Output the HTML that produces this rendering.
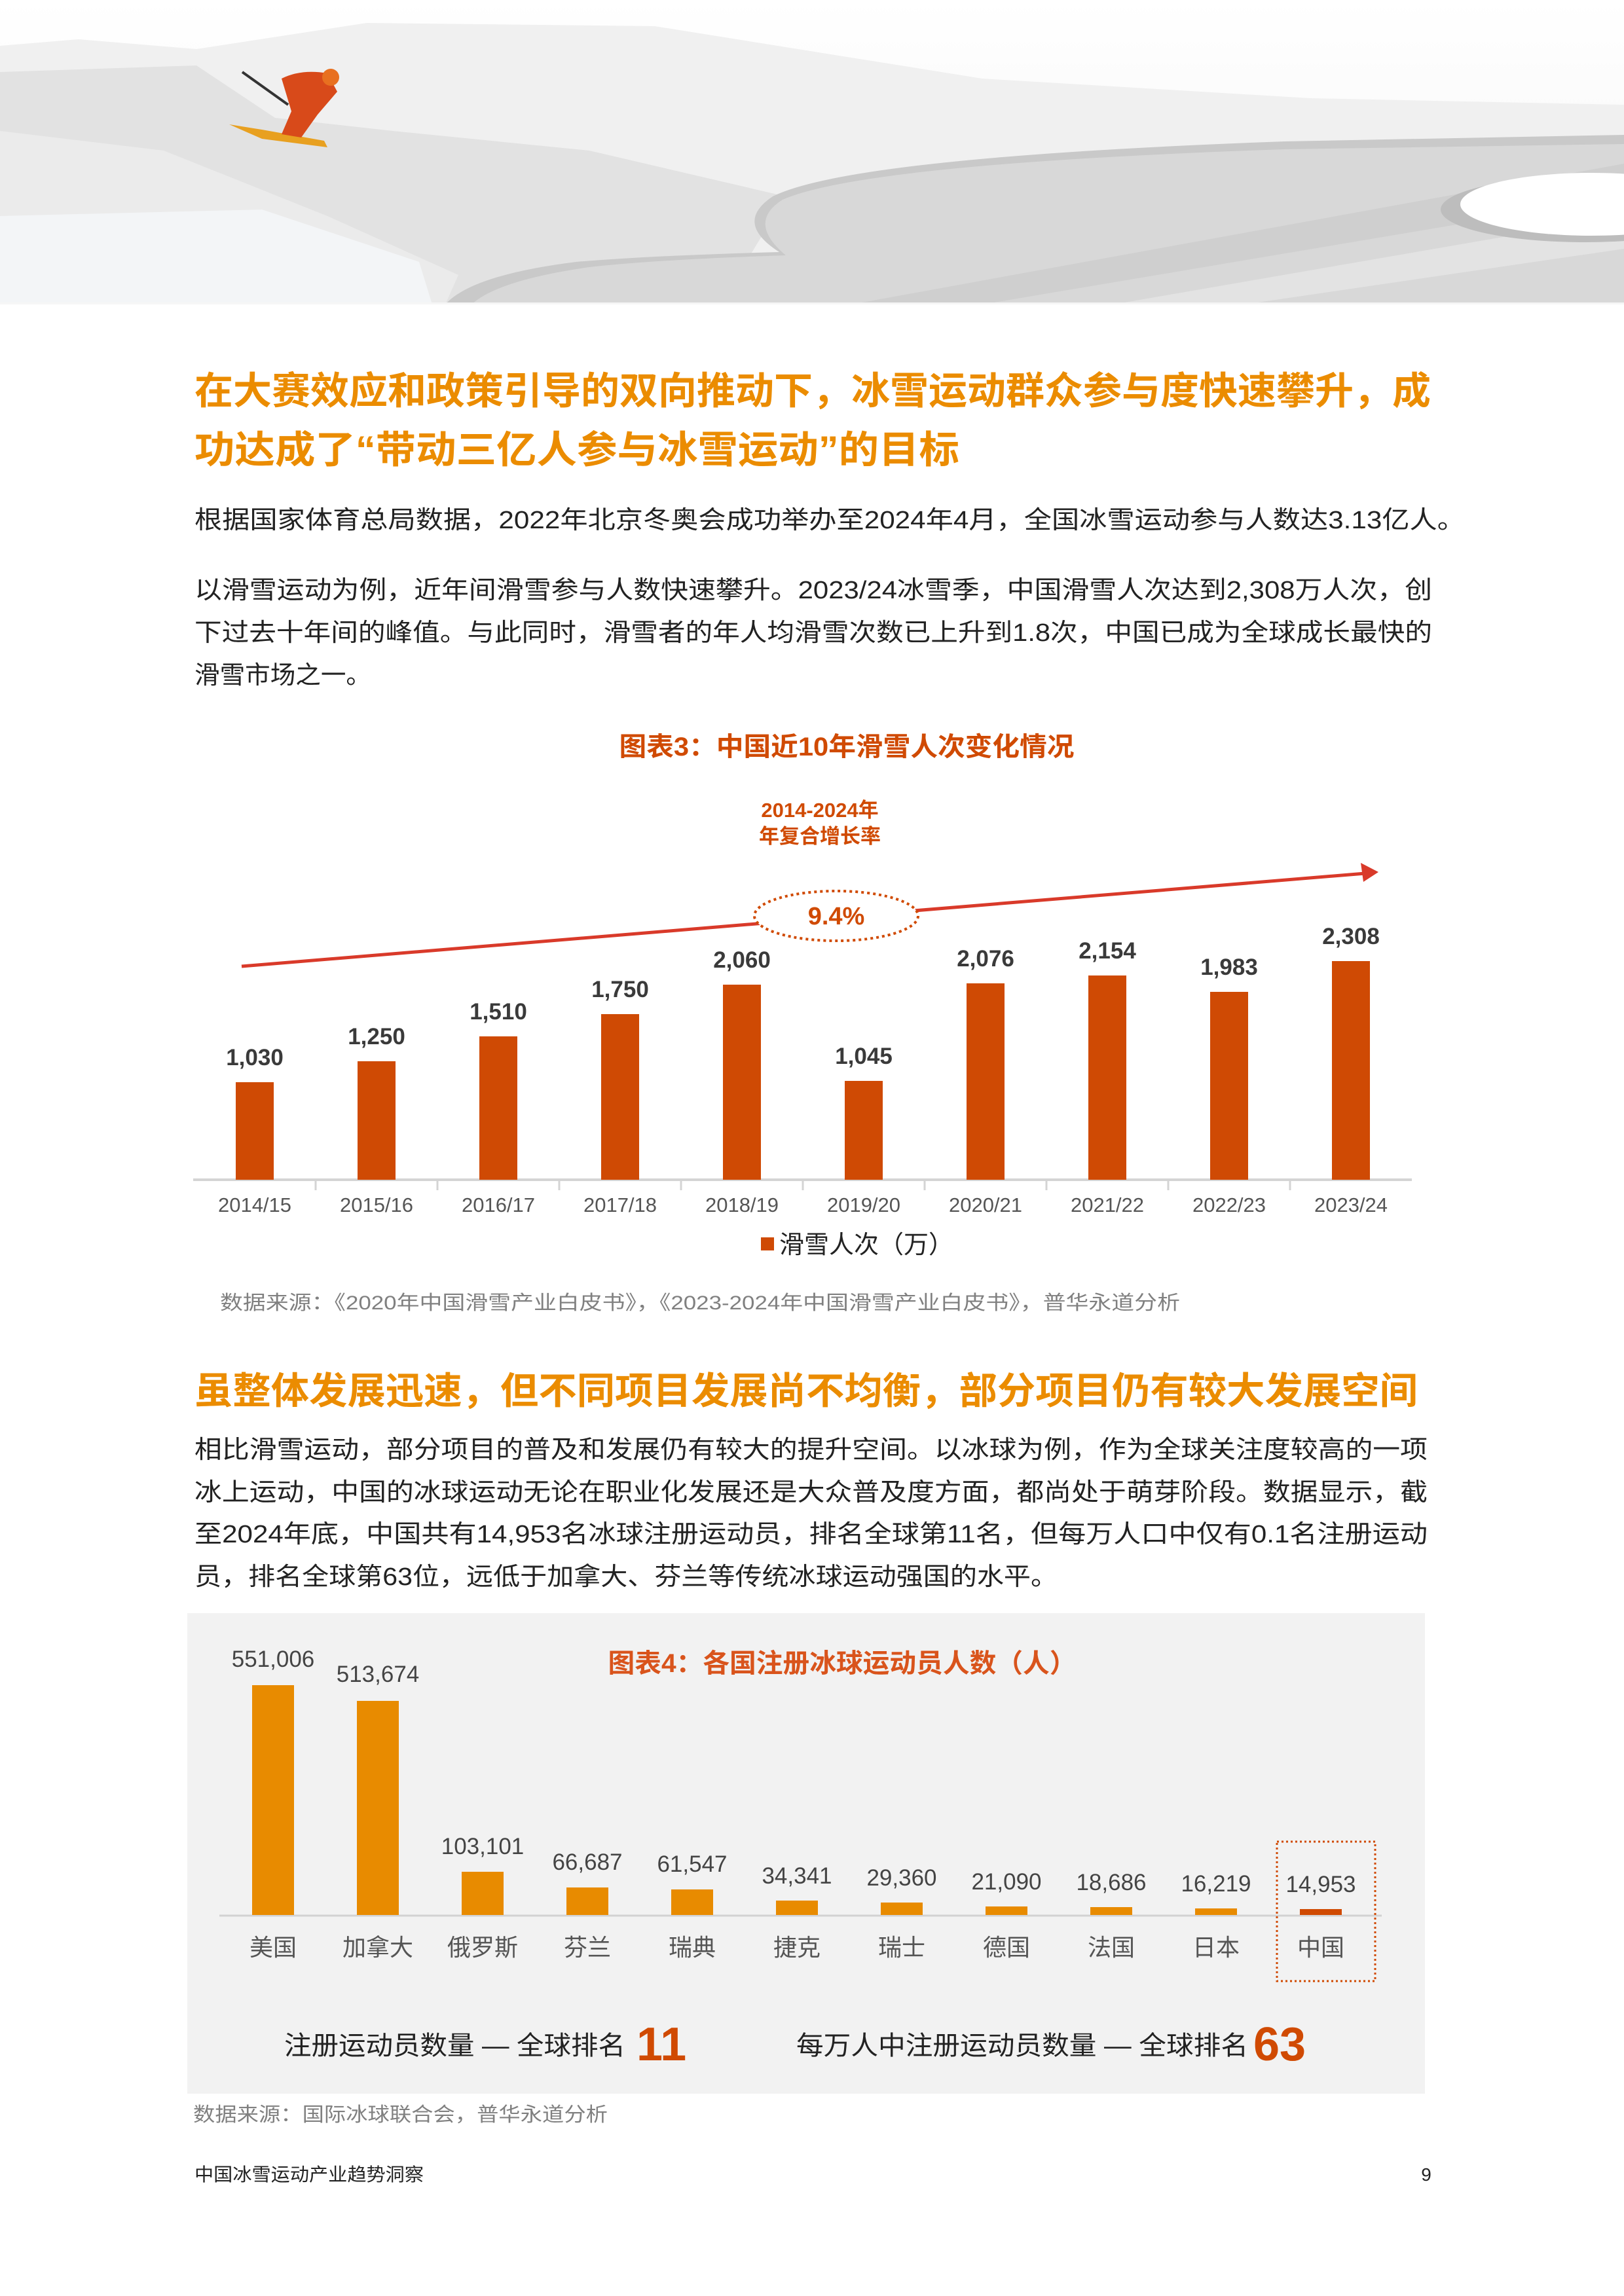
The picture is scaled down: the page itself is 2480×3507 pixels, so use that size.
<!DOCTYPE html>
<html><head><meta charset="utf-8">
<style>
html,body{margin:0;padding:0;background:#fff;}
svg{display:block;}
text{font-family:"Liberation Sans","Noto Sans CJK SC",sans-serif;}
</style></head>
<body>
<svg width="2480" height="3507" viewBox="0 0 2480 3507" xmlns="http://www.w3.org/2000/svg">
<defs>
<linearGradient id="sky" x1="0" y1="0" x2="0" y2="1">
<stop offset="0" stop-color="#ffffff"/><stop offset="1" stop-color="#f4f4f4"/>
</linearGradient>
</defs>
<!-- header scene -->
<rect x="0" y="0" width="2480" height="465" fill="url(#sky)"/>
<path d="M0 70 L120 60 L300 75 L560 35 L1000 40 L1500 120 L2000 150 L2480 160 L2480 465 L0 465 Z" fill="#f0f0f0"/>
<path d="M0 110 L300 100 L420 180 L600 200 L900 230 L1200 300 L1100 465 L0 465 Z" fill="#e2e2e2"/>
<path d="M0 200 L250 230 L500 330 L700 420 L680 465 L0 465 Z" fill="#ebebeb"/>
<path d="M0 330 L400 320 L640 400 L660 465 L0 465 Z" fill="#f3f5f7"/>
<path d="M2480 206 L1962 216 Q1300 240 1180 300 Q1120 340 1190 385 Q1000 390 880 400 Q720 420 680 465 L2480 465 Z" fill="#c9c9c9"/>
<path d="M2480 220 L1962 228 Q1320 250 1195 305 Q1140 340 1200 390 Q1010 396 900 408 Q760 428 720 465 L2480 465 Z" fill="#d8d8d8"/>
<path d="M1300 465 L2480 250 L2480 300 L1500 465 Z" fill="#cfcfcf"/>
<path d="M1700 465 L2480 330 L2480 380 L1900 465 Z" fill="#e3e3e3"/>
<ellipse cx="2420" cy="320" rx="220" ry="50" fill="#bdbdbd"/>
<ellipse cx="2430" cy="312" rx="200" ry="48" fill="#ffffff"/>
<!-- skier -->
<path d="M350 190 L400 212 L500 225 L495 215 L400 198 Z" fill="#e8a020"/>
<path d="M430 120 Q460 105 500 112 L515 140 L485 175 L460 210 L430 205 L445 170 Z" fill="#d84a1a"/>
<circle cx="505" cy="118" r="13" fill="#e87020"/>
<path d="M370 110 L440 160" stroke="#333" stroke-width="4"/>
<rect x="0" y="462" width="2480" height="3" fill="#f6f6f6"/>

<!-- Section 1 heading -->
<text x="297" y="617" font-size="58" font-weight="bold" fill="#eb8c00" textLength="1888" lengthAdjust="spacingAndGlyphs">在大赛效应和政策引导的双向推动下，冰雪运动群众参与度快速攀升，成</text>
<text x="297" y="707" font-size="58" font-weight="bold" fill="#eb8c00" textLength="1168" lengthAdjust="spacingAndGlyphs">功达成了“带动三亿人参与冰雪运动”的目标</text>

<g font-size="38" fill="#222">
<text x="297" y="807" textLength="1940" lengthAdjust="spacingAndGlyphs">根据国家体育总局数据，2022年北京冬奥会成功举办至2024年4月，全国冰雪运动参与人数达3.13亿人。</text>
<text x="297" y="914" textLength="1890" lengthAdjust="spacingAndGlyphs">以滑雪运动为例，近年间滑雪参与人数快速攀升。2023/24冰雪季，中国滑雪人次达到2,308万人次，创</text>
<text x="297" y="979" textLength="1890" lengthAdjust="spacingAndGlyphs">下过去十年间的峰值。与此同时，滑雪者的年人均滑雪次数已上升到1.8次，中国已成为全球成长最快的</text>
<text x="297" y="1044" textLength="270" lengthAdjust="spacingAndGlyphs">滑雪市场之一。</text>
</g>

<!-- Chart 3 -->
<text x="1293" y="1154" font-size="40" font-weight="bold" fill="#d04a02" text-anchor="middle" textLength="695" lengthAdjust="spacingAndGlyphs">图表3：中国近10年滑雪人次变化情况</text>
<text x="1252" y="1248" font-size="31" font-weight="bold" fill="#d04a02" text-anchor="middle">2014-2024年</text>
<text x="1252" y="1288" font-size="31" font-weight="bold" fill="#d04a02" text-anchor="middle">年复合增长率</text>
<line x1="369" y1="1476" x2="2085" y2="1334" stroke="#d93a2a" stroke-width="5"/>
<polygon points="2105,1332 2078,1318 2082,1347" fill="#d93a2a"/>
<ellipse cx="1277" cy="1399" rx="125" ry="38" fill="#fff" stroke="#d04a02" stroke-width="4" stroke-dasharray="4 5"/>
<text x="1277" y="1412" font-size="38" font-weight="bold" fill="#d04a02" text-anchor="middle">9.4%</text>

<line x1="295" y1="1802" x2="2156" y2="1802" stroke="#d4d4d4" stroke-width="4"/>
<g stroke="#d4d4d4" stroke-width="3">
<line x1="482" y1="1802" x2="482" y2="1818"/><line x1="668" y1="1802" x2="668" y2="1818"/><line x1="854" y1="1802" x2="854" y2="1818"/><line x1="1040" y1="1802" x2="1040" y2="1818"/><line x1="1226" y1="1802" x2="1226" y2="1818"/><line x1="1412" y1="1802" x2="1412" y2="1818"/><line x1="1598" y1="1802" x2="1598" y2="1818"/><line x1="1784" y1="1802" x2="1784" y2="1818"/><line x1="1970" y1="1802" x2="1970" y2="1818"/>
</g>
<g fill="#cf4a04">
<rect x="360" y="1653" width="58" height="149"/>
<rect x="546" y="1621" width="58" height="181"/>
<rect x="732" y="1583" width="58" height="219"/>
<rect x="918" y="1549" width="58" height="253"/>
<rect x="1104" y="1504" width="58" height="298"/>
<rect x="1290" y="1651" width="58" height="151"/>
<rect x="1476" y="1502" width="58" height="300"/>
<rect x="1662" y="1490" width="58" height="312"/>
<rect x="1848" y="1515" width="58" height="287"/>
<rect x="2034" y="1468" width="58" height="334"/>
</g>
<g font-size="35" font-weight="bold" fill="#3a3a3a" text-anchor="middle">
<text x="389" y="1627">1,030</text>
<text x="575" y="1595">1,250</text>
<text x="761" y="1557">1,510</text>
<text x="947" y="1523">1,750</text>
<text x="1133" y="1478">2,060</text>
<text x="1319" y="1625">1,045</text>
<text x="1505" y="1476">2,076</text>
<text x="1691" y="1464">2,154</text>
<text x="1877" y="1489">1,983</text>
<text x="2063" y="1442">2,308</text>
</g>
<g font-size="31" fill="#555" text-anchor="middle">
<text x="389" y="1851">2014/15</text><text x="575" y="1851">2015/16</text><text x="761" y="1851">2016/17</text><text x="947" y="1851">2017/18</text><text x="1133" y="1851">2018/19</text><text x="1319" y="1851">2019/20</text><text x="1505" y="1851">2020/21</text><text x="1691" y="1851">2021/22</text><text x="1877" y="1851">2022/23</text><text x="2063" y="1851">2023/24</text>
</g>
<rect x="1162" y="1890" width="20" height="20" fill="#cf4a04"/>
<text x="1190" y="1914" font-size="38" fill="#222">滑雪人次（万）</text>
<text x="336" y="2000" font-size="30" fill="#808080" textLength="1466" lengthAdjust="spacingAndGlyphs">数据来源：《2020年中国滑雪产业白皮书》，《2023-2024年中国滑雪产业白皮书》，普华永道分析</text>

<!-- Section 2 -->
<text x="297" y="2144" font-size="57" font-weight="bold" fill="#eb8c00" textLength="1868" lengthAdjust="spacingAndGlyphs">虽整体发展迅速，但不同项目发展尚不均衡，部分项目仍有较大发展空间</text>
<g font-size="38" fill="#222">
<text x="297" y="2227" textLength="1883" lengthAdjust="spacingAndGlyphs">相比滑雪运动，部分项目的普及和发展仍有较大的提升空间。以冰球为例，作为全球关注度较高的一项</text>
<text x="297" y="2292" textLength="1883" lengthAdjust="spacingAndGlyphs">冰上运动，中国的冰球运动无论在职业化发展还是大众普及度方面，都尚处于萌芽阶段。数据显示，截</text>
<text x="297" y="2356" textLength="1883" lengthAdjust="spacingAndGlyphs">至2024年底，中国共有14,953名冰球注册运动员，排名全球第11名，但每万人口中仅有0.1名注册运动</text>
<text x="297" y="2421" textLength="1318" lengthAdjust="spacingAndGlyphs">员，排名全球第63位，远低于加拿大、芬兰等传统冰球运动强国的水平。</text>
</g>

<!-- Chart 4 -->
<rect x="286" y="2464" width="1890" height="734" fill="#f2f2f2"/>
<text x="1286" y="2554" font-size="40" font-weight="bold" fill="#d9541c" text-anchor="middle" textLength="715" lengthAdjust="spacingAndGlyphs">图表4：各国注册冰球运动员人数（人）</text>
<line x1="335" y1="2926" x2="2110" y2="2926" stroke="#d2d2d2" stroke-width="3"/>
<g fill="#e88b00">
<rect x="385" y="2574" width="64" height="351"/>
<rect x="545" y="2598" width="64" height="327"/>
<rect x="705" y="2859" width="64" height="66"/>
<rect x="865" y="2883" width="64" height="42"/>
<rect x="1025" y="2886" width="64" height="39"/>
<rect x="1185" y="2903" width="64" height="22"/>
<rect x="1345" y="2906" width="64" height="19"/>
<rect x="1505" y="2912" width="64" height="13"/>
<rect x="1665" y="2913" width="64" height="12"/>
<rect x="1825" y="2915" width="64" height="10"/>
</g>
<rect x="1985" y="2916" width="64" height="9" fill="#d04a02"/>
<g font-size="35" fill="#444" text-anchor="middle">
<text x="417" y="2546">551,006</text>
<text x="577" y="2569">513,674</text>
<text x="737" y="2832">103,101</text>
<text x="897" y="2856">66,687</text>
<text x="1057" y="2859">61,547</text>
<text x="1217" y="2877">34,341</text>
<text x="1377" y="2880">29,360</text>
<text x="1537" y="2886">21,090</text>
<text x="1697" y="2887">18,686</text>
<text x="1857" y="2889">16,219</text>
<text x="2017" y="2890">14,953</text>
</g>
<g font-size="36" fill="#555" text-anchor="middle">
<text x="417" y="2987">美国</text><text x="577" y="2987">加拿大</text><text x="737" y="2987">俄罗斯</text><text x="897" y="2987">芬兰</text><text x="1057" y="2987">瑞典</text><text x="1217" y="2987">捷克</text><text x="1377" y="2987">瑞士</text><text x="1537" y="2987">德国</text><text x="1697" y="2987">法国</text><text x="1857" y="2987">日本</text><text x="2017" y="2987">中国</text>
</g>
<rect x="1950" y="2813" width="150" height="213" fill="none" stroke="#d04a02" stroke-width="3" stroke-dasharray="3 4"/>
<text x="434" y="3138" font-size="40" fill="#222" textLength="521" lengthAdjust="spacingAndGlyphs">注册运动员数量 — 全球排名</text>
<text x="972" y="3147" font-size="72" font-weight="bold" fill="#d04a02">11</text>
<text x="1216" y="3138" font-size="40" fill="#222" textLength="690" lengthAdjust="spacingAndGlyphs">每万人中注册运动员数量 — 全球排名</text>
<text x="1914" y="3147" font-size="72" font-weight="bold" fill="#d04a02">63</text>

<text x="295" y="3240" font-size="30" fill="#808080" textLength="633" lengthAdjust="spacingAndGlyphs">数据来源：国际冰球联合会，普华永道分析</text>
<text x="297" y="3331" font-size="28" fill="#222" textLength="350" lengthAdjust="spacingAndGlyphs">中国冰雪运动产业趋势洞察</text>
<text x="2178" y="3331" font-size="28" fill="#222" text-anchor="middle">9</text>
</svg>
</body></html>
